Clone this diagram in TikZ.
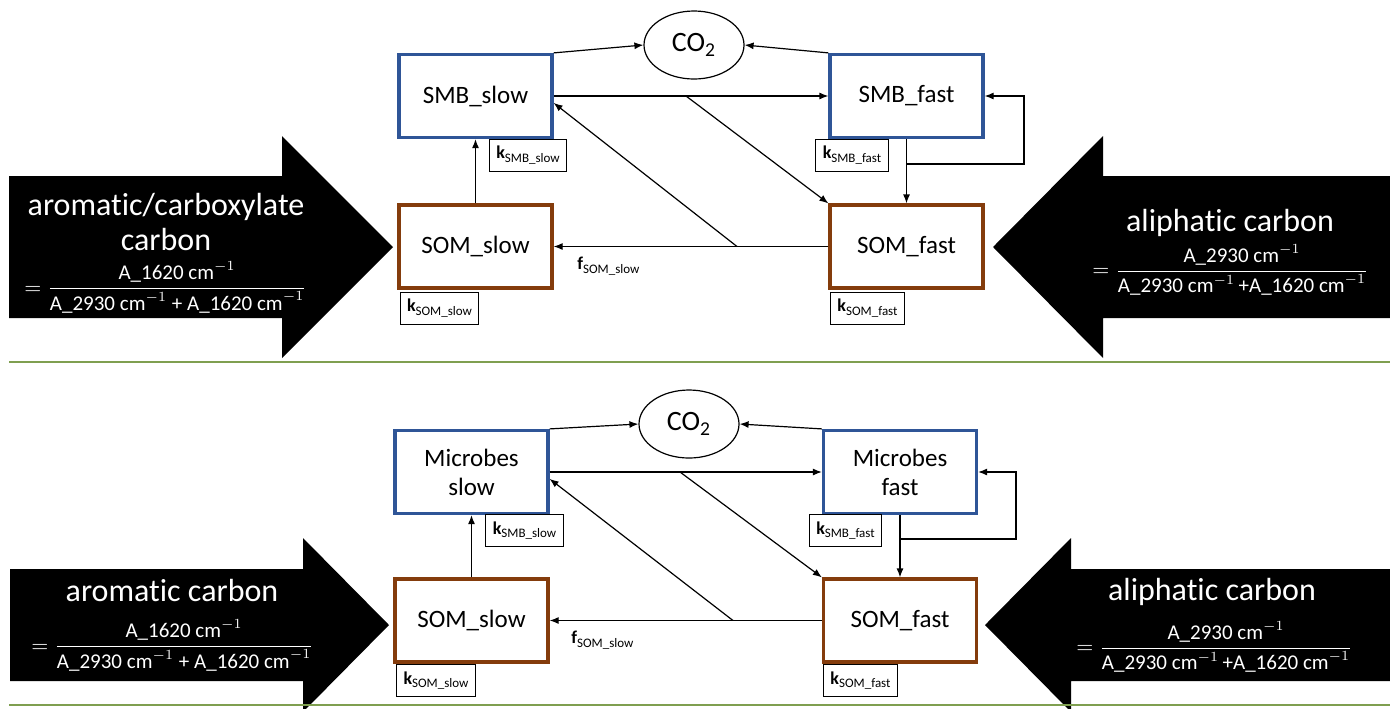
\documentclass[tikz,border=0pt]{standalone}
\usepackage{fontspec}
\usepackage{amsmath}
\setmainfont{Carlito}[Ligatures=NoCommon]
\usetikzlibrary{arrows.meta,shapes.geometric,calc}
\definecolor{boxblue}{HTML}{2F5597}
\definecolor{boxbrown}{HTML}{843C0C}
\definecolor{sepgreen}{HTML}{7F9F50}
\newcommand{\ksub}[2]{\textbf{#1}\raisebox{-0.4ex}{\fontsize{6.5}{7}\selectfont #2}}
\newcommand{\wn}[1]{\text{A\_#1 cm}^{-1}}
\newcommand{\nolig}{\kern0pt{}}
\begin{document}
\begin{tikzpicture}[x=0.5pt,y=-0.5pt,
  pool/.style={draw, line width=1.6pt, minimum width=76.5pt, minimum height=41.5pt, inner sep=0pt,
    font=\fontsize{12.5}{14.5}\selectfont, align=center},
  smb/.style={pool, draw=boxblue},
  som/.style={pool, draw=boxbrown},
  gas/.style={ellipse, draw, line width=0.6pt, minimum width=50pt, minimum height=34pt, inner sep=0pt,
    font=\fontsize{14}{16}\selectfont},
  kbox/.style={draw, line width=0.5pt, fill=white, minimum height=16pt, inner xsep=3.5pt, inner ysep=0pt,
    font=\fontsize{9}{10}\selectfont},
  flow/.style={line width=0.6pt, -{Latex[length=4.5pt,width=3.5pt]}},
  bigarrow/.style={fill=black, draw=none},
  bigtitle/.style={text=white, font=\fontsize{16}{17.5}\selectfont, align=center, inner sep=0pt},
  ratio/.style={text=white, font=\fontsize{10.5}{12}\selectfont, inner sep=0pt, anchor=west},
  flabel/.style={font=\fontsize{9}{10}\selectfont, inner sep=0pt, anchor=west},
  sep/.style={draw=sepgreen, line width=1pt}
]
\useasboundingbox (0,0) rectangle (1390,708);

% ---------------- top panel ----------------
\fill[bigarrow] (9,176) -- (282,176) -- (282,136) -- (393,247) -- (282,358) -- (282,318) -- (9,318) -- cycle;
\fill[bigarrow] (1390,176) -- (1103,176) -- (1103,136) -- (993,247) -- (1103,358) -- (1103,318) -- (1390,318) -- cycle;
\node[bigtitle] (tl1) at (166,222) {aromat\nolig ic/carboxylate\\carbon};
\node[ratio] (tl2) at (24,287) {$=\dfrac{\wn{1620}}{\wn{2930}\mathbin{\text{+}}\wn{1620}}$};
\node[bigtitle] (tr1) at (1230,223) {aliphat\nolig ic carbon};
\node[ratio] (tr2) at (1092,270) {$=\dfrac{\wn{2930}}{\wn{2930}\,\text{+}\wn{1620}}$};

\node[smb] (smbS1) at (475.5,96) {SMB\_slow};
\node[smb] (smbF1) at (906.5,96) {SMB\_fast};
\node[som] (somS1) at (475.5,246.5) {SOM\_slow};
\node[som] (somF1) at (906.5,246.5) {SOM\_fast};
\node[gas] (co21) at (694,45) {CO\textsubscript{2}};

\coordinate (d11) at (686,96);
\coordinate (d12) at (737,246.5);
\coordinate (l11) at (906.5,164);
\coordinate (l12) at (1024,164);
\draw[flow] (smbS1.north east) -- (co21.west);
\draw[flow] (smbF1.north west) -- (co21.east);
\draw[flow] (smbS1.east) -- (smbF1.west);
\draw[flow] (d11) -- (somF1.north west);
\draw[flow] (somF1.west) -- (somS1.east);
\draw[flow] (d12) -- (smbS1.-5);
\draw[flow] (somS1.north) -- (smbS1.south);
\draw[flow] (smbF1.south) -- (somF1.north);
\draw[flow] (l11) -- (l12) |- (smbF1.east);

\node[kbox] (k11) at (528,155) {\ksub{k}{SMB\_slow}};
\node[kbox] (k12) at (852,155) {\ksub{k}{SMB\_fast}};
\node[kbox] (k13) at (439.5,308) {\ksub{k}{SOM\_slow}};
\node[kbox] (k14) at (867.5,308) {\ksub{k}{SOM\_fast}};
\node[flabel] (f1) at (577,266) {\ksub{f}{SOM\_slow}};

\coordinate (s1a) at (9,362);
\coordinate (s1b) at (1390,362);
\draw[sep] (s1a) -- (s1b);

% ---------------- bottom panel ----------------
\fill[bigarrow] (10,569) -- (303,569) -- (303,538) -- (389,625) -- (303,712) -- (303,681) -- (10,681) -- cycle;
\fill[bigarrow] (1390,569) -- (1071,569) -- (1071,538) -- (985,625) -- (1071,712) -- (1071,681) -- (1390,681) -- cycle;
\node[bigtitle] (bl1) at (172,590) {aromat\nolig ic carbon};
\node[ratio] (bl2) at (31,645) {$=\dfrac{\wn{1620}}{\wn{2930}\mathbin{\text{+}}\wn{1620}}$};
\node[bigtitle] (br1) at (1212,592) {aliphat\nolig ic carbon};
\node[ratio] (br2) at (1076,647) {$=\dfrac{\wn{2930}}{\wn{2930}\,\text{+}\wn{1620}}$};

\node[smb] (smbS2) at (471.5,472) {Microbes\\slow};
\node[smb] (smbF2) at (900,472) {Microbes\\fast};
\node[som] (somS2) at (471.5,620.5) {SOM\_slow};
\node[som] (somF2) at (900,620.5) {SOM\_fast};
\node[gas] (co22) at (689,424) {CO\textsubscript{2}};

\coordinate (d21) at (680,472);
\coordinate (d22) at (733,620.5);
\coordinate (l21) at (900,539);
\coordinate (l22) at (1016,539);
\draw[flow] (smbS2.north east) -- (co22.west);
\draw[flow] (smbF2.north west) -- (co22.east);
\draw[flow] (smbS2.east) -- (smbF2.west);
\draw[flow] (d21) -- (somF2.north west);
\draw[flow] (somF2.west) -- (somS2.east);
\draw[flow] (d22) -- (smbS2.-5);
\draw[flow] (somS2.north) -- (smbS2.south);
\draw[flow] (smbF2.south) -- (somF2.north);
\draw[flow] (l21) -- (l22) |- (smbF2.east);

\node[kbox] (k21) at (524.5,530.5) {\ksub{k}{SMB\_slow}};
\node[kbox] (k22) at (845.5,530.5) {\ksub{k}{SMB\_fast}};
\node[kbox] (k23) at (436,680.5) {\ksub{k}{SOM\_slow}};
\node[kbox] (k24) at (860.5,680.5) {\ksub{k}{SOM\_fast}};
\node[flabel] (f2) at (571,640) {\ksub{f}{SOM\_slow}};

\coordinate (s2a) at (9,705);
\coordinate (s2b) at (1390,705);
\draw[sep] (s2a) -- (s2b);
\end{tikzpicture}
\end{document}
